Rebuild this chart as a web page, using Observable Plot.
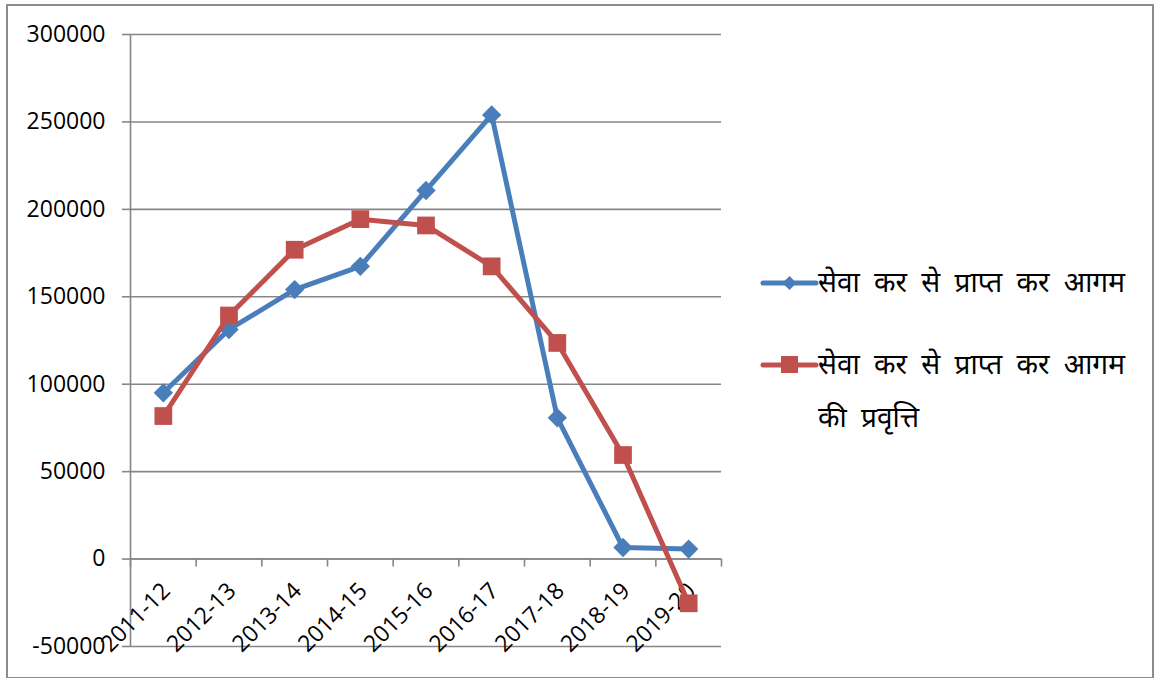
<!DOCTYPE html>
<html>
<head>
<meta charset="utf-8">
<script src="https://cdn.jsdelivr.net/npm/d3@7"></script>
<script src="https://cdn.jsdelivr.net/npm/@observablehq/plot@0.6"></script>
<style>
  html, body { margin: 0; padding: 0; background: #fff; }
  #wrap { position: relative; width: 1155px; height: 678px; overflow: hidden; font-family: "Open Sans", "Noto Sans", sans-serif; }
  #frame { position: absolute; left: 6px; top: 4px; width: 1144px; height: 671px; border: 2px solid #8c8c8c; box-sizing: content-box; pointer-events: none; }
  #legend { position: absolute; left: 0; top: 0; width: 1155px; height: 678px; font-size: 28px; color: #000; font-family: "Noto Sans", "Open Sans", sans-serif; pointer-events: none; }
  .sw { position: absolute; }
  .lbl { position: absolute; line-height: 53px; word-spacing: 7px; width: 330px; white-space: normal; }
</style>
</head>
<body>
<div id="wrap">
  <div id="chart"></div>
  <div id="legend"></div>
  <div id="frame"></div>
</div>
<script>
const years = ["2011-12", "2012-13", "2013-14", "2014-15", "2015-16", "2016-17", "2017-18", "2018-19", "2019-20"];
const revenue = [95100, 131300, 154100, 167400, 210800, 254000, 80800, 6600, 5700];
const trend = [81800, 139300, 176900, 194400, 190800, 167400, 123600, 59500, -25300];
const yTicks = [-50000, 0, 50000, 100000, 150000, 200000, 250000, 300000];
const seriesNames = ["सेवा कर से प्राप्त कर आगम", "सेवा कर से प्राप्त कर आगम की प्रवृत्ति"];
const blue = "#4a7ebb";
const red = "#c0504d";
const grid = "#868686";

const rows = years.map((year, i) => ({i, year, a: revenue[i], b: trend[i]}));
const bounds = d3.range(years.length + 1).map(k => k - 0.5);

const chart = Plot.plot({
  width: 1155,
  height: 678,
  marginLeft: 130,
  marginRight: 434,
  marginTop: 34,
  marginBottom: 32,
  style: {fontFamily: "'Open Sans', 'Noto Sans', sans-serif", background: "transparent", overflow: "visible"},
  x: {domain: [-0.5, years.length - 0.5], axis: null},
  y: {domain: [-50000, 300000], axis: null},
  marks: [
    Plot.gridY(yTicks, {stroke: grid, strokeOpacity: 1, strokeWidth: 1.6}),
    Plot.axisY(yTicks, {tickSize: 8, tickPadding: 17, tickFormat: d => String(d), fontSize: 23, stroke: grid, strokeWidth: 1.6, fill: "#000", label: null}),
    Plot.ruleX([-0.5], {stroke: grid, strokeWidth: 1.6}),
    Plot.ruleY([0], {stroke: grid, strokeWidth: 1.6}),
    Plot.ruleX(bounds, {y1: 0, y2: 0, insetBottom: -8, stroke: grid, strokeWidth: 1.6}),
    Plot.text(rows, {x: "i", y: 0, text: "year", rotate: -45, textAnchor: "end", dx: 3, dy: 28, fontSize: 23, fill: "#000"}),
    Plot.line(rows, {x: "i", y: "a", stroke: blue, strokeWidth: 5, strokeLinejoin: "round"}),
    Plot.dot(rows, {x: "i", y: "a", symbol: "diamond2", r: 8.7, fill: blue, stroke: null}),
    Plot.line(rows, {x: "i", y: "b", stroke: red, strokeWidth: 5, strokeLinejoin: "round"}),
    Plot.dot(rows, {x: "i", y: "b", symbol: "square", r: 10, fill: red, stroke: null})
  ]
});
document.getElementById("chart").appendChild(chart);

// legend
const legend = d3.select("#legend");
const items = [
  {name: seriesNames[0], color: blue, shape: "diamond", cy: 283},
  {name: seriesNames[1], color: red, shape: "square", cy: 365}
];
items.forEach(it => {
  const sw = legend.append("svg").attr("class", "sw").attr("width", 60).attr("height", 30)
    .style("left", "759px").style("top", (it.cy - 15) + "px");
  sw.append("line").attr("x1", 4).attr("x2", 57).attr("y1", 15).attr("y2", 15)
    .attr("stroke", it.color).attr("stroke-width", 5).attr("stroke-linecap", "round");
  if (it.shape === "diamond") {
    sw.append("path").attr("d", "M30.5,8 L37.5,15 L30.5,22 L23.5,15 Z").attr("fill", it.color);
  } else {
    sw.append("rect").attr("x", 22).attr("y", 6).attr("width", 17).attr("height", 17).attr("fill", it.color);
  }
  legend.append("div").attr("class", "lbl")
    .style("left", "818px").style("top", (it.cy - 26.5 - 2) + "px")
    .text(it.name);
});
</script>
</body>
</html>
